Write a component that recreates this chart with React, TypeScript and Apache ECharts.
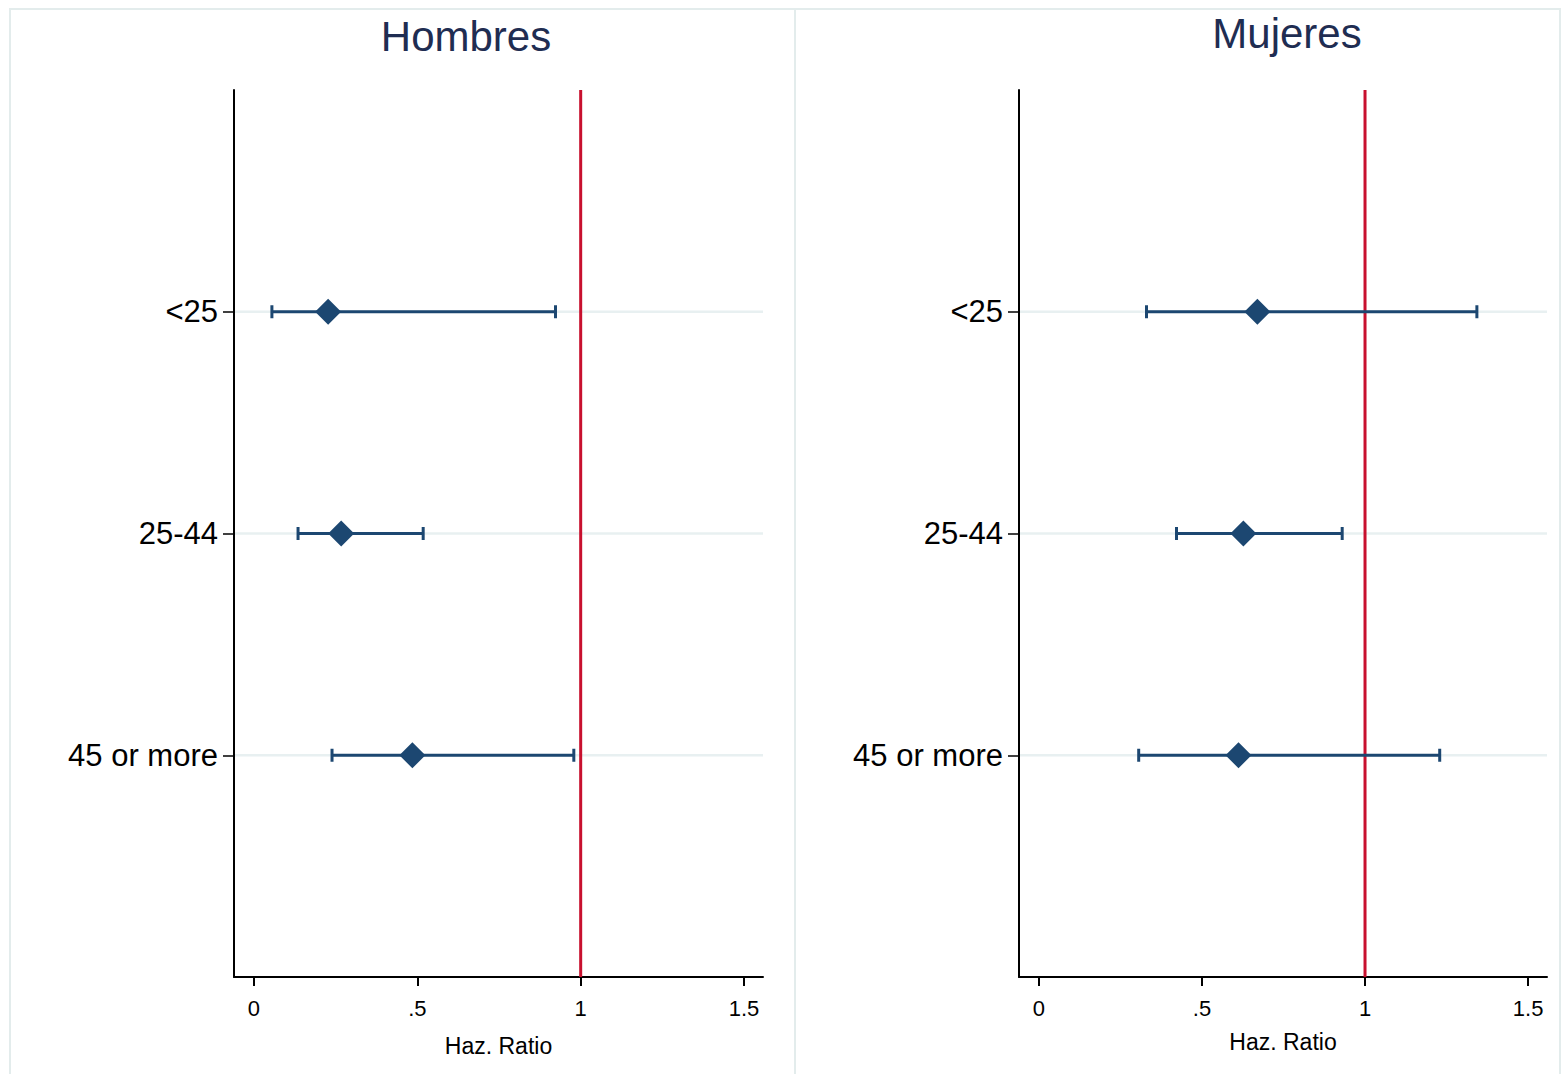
import React, { useEffect, useRef } from "react";
import * as echarts from "echarts";

// y positions: 1 = "45 or more", 2 = "25-44", 3 = "<25"
const ageGroups = ["45 or more", "25-44", "<25"];
const ageY = [1, 2, 3];
const panelTitles = ["Hombres", "Mujeres"];

const hombresHR = [0.485, 0.267, 0.227];
const hombresLow = [0.239, 0.135, 0.055];
const hombresHigh = [0.979, 0.518, 0.923];

const mujeresHR = [0.612, 0.627, 0.67];
const mujeresLow = [0.306, 0.422, 0.33];
const mujeresHigh = [1.229, 0.93, 1.343];

const xTicks = [0, 0.5, 1, 1.5];
const xTickLabels = ["0", ".5", "1", "1.5"];
const refValue = 1;
const xName = "Haz. Ratio";

const FONT = '"Liberation Sans", Arial, Helvetica, sans-serif';
const NAVY = "#1c4771";
const RED = "#c8102e";
const GRIDC = "#e8f0f1";

export default function App() {
  const ref = useRef<HTMLDivElement>(null);

  useEffect(() => {
    if (!ref.current) return;
    const chart = echarts.init(ref.current, undefined, { renderer: "svg" });

    const grids = [
      { left: 234, top: 90, width: 529, height: 887 },
      { left: 1019, top: 90, width: 528, height: 887 },
    ];
    const nameGaps = [57, 53];

    const xAxes = grids.map((_, i) => ({
      type: "value",
      gridIndex: i,
      min: -0.061,
      max: 1.558,
      name: xName,
      nameLocation: "middle",
      nameGap: nameGaps[i],
      nameTextStyle: { fontSize: 23, color: "#000", fontFamily: FONT },
      axisLine: { show: true, onZero: false, lineStyle: { color: "#000", width: 2 } },
      axisTick: {
        show: true,
        customValues: xTicks,
        length: 9,
        lineStyle: { color: "#000", width: 2 },
      },
      axisLabel: {
        show: true,
        customValues: xTicks,
        formatter: (v: number) => xTickLabels[xTicks.indexOf(v)] ?? String(v),
        fontSize: 22,
        color: "#000",
        margin: 20,
        fontFamily: FONT,
      },
      splitLine: { show: false },
    }));

    const yAxes = grids.map((_, i) => ({
      type: "value",
      gridIndex: i,
      min: 0,
      max: 4,
      axisLine: { show: true, onZero: false, lineStyle: { color: "#000", width: 2 } },
      axisTick: {
        show: true,
        customValues: ageY,
        length: 11,
        lineStyle: { color: "#000", width: 1.5 },
      },
      axisLabel: {
        show: true,
        customValues: ageY,
        formatter: (v: number) => ageGroups[ageY.indexOf(v)] ?? "",
        fontSize: 31,
        color: "#000",
        margin: 16,
        fontFamily: FONT,
      },
      splitLine: { show: false },
    }));

    const panels = [
      { hr: hombresHR, lo: hombresLow, hi: hombresHigh },
      { hr: mujeresHR, lo: mujeresLow, hi: mujeresHigh },
    ];

    const series: any[] = [];
    panels.forEach((p, i) => {
      series.push({
        type: "custom",
        xAxisIndex: i,
        yAxisIndex: i,
        z: 1,
        silent: true,
        encode: { x: 0, y: 1 },
        data: ageY.map((y) => [0, y]),
        renderItem: (params: any, api: any) => {
          const cs = params.coordSys;
          const pt = api.coord([api.value(0), api.value(1)]);
          return {
            type: "line",
            shape: { x1: cs.x + 1, y1: pt[1], x2: cs.x + cs.width, y2: pt[1] },
            style: { stroke: GRIDC, lineWidth: 2.5 },
          };
        },
      });
      series.push({
        type: "custom",
        xAxisIndex: i,
        yAxisIndex: i,
        z: 2,
        silent: true,
        encode: { x: 0, y: 1 },
        data: [[refValue, 0]],
        renderItem: (params: any, api: any) => {
          const cs = params.coordSys;
          const pt = api.coord([api.value(0), api.value(1)]);
          return {
            type: "line",
            shape: { x1: pt[0], y1: cs.y, x2: pt[0], y2: cs.y + cs.height },
            style: { stroke: RED, lineWidth: 3 },
          };
        },
      });
      series.push({
        type: "custom",
        xAxisIndex: i,
        yAxisIndex: i,
        z: 3,
        silent: true,
        encode: { x: [0, 1], y: 2 },
        data: ageY.map((y, k) => [p.lo[k], p.hi[k], y]),
        renderItem: (_params: any, api: any) => {
          const a = api.coord([api.value(0), api.value(2)]);
          const b = api.coord([api.value(1), api.value(2)]);
          const cap = 6.5;
          const style = { stroke: NAVY, lineWidth: 3 };
          return {
            type: "group",
            children: [
              { type: "line", shape: { x1: a[0], y1: a[1], x2: b[0], y2: b[1] }, style },
              { type: "line", shape: { x1: a[0], y1: a[1] - cap, x2: a[0], y2: a[1] + cap }, style },
              { type: "line", shape: { x1: b[0], y1: b[1] - cap, x2: b[0], y2: b[1] + cap }, style },
            ],
          };
        },
      });
      series.push({
        type: "scatter",
        xAxisIndex: i,
        yAxisIndex: i,
        z: 4,
        symbol: "diamond",
        symbolSize: 26,
        itemStyle: { color: NAVY, opacity: 1 },
        data: ageY.map((y, k) => [p.hr[k], y]),
      });
    });

    chart.setOption({
      animation: false,
      backgroundColor: "#ffffff",
      textStyle: { fontFamily: FONT },
      grid: grids,
      xAxis: xAxes,
      yAxis: yAxes,
      series,
      graphic: [
        {
          type: "rect",
          silent: true,
          z: -10,
          shape: { x: 10, y: 9, width: 785, height: 1090 },
          style: { fill: "none", stroke: "#e3ecec", lineWidth: 2 },
        },
        {
          type: "rect",
          silent: true,
          z: -10,
          shape: { x: 795, y: 9, width: 765, height: 1090 },
          style: { fill: "none", stroke: "#e3ecec", lineWidth: 2 },
        },
        {
          type: "text",
          x: 466,
          y: 36,
          style: {
            text: panelTitles[0],
            fontSize: 42,
            fontFamily: FONT,
            fill: "#1f2d52",
            textAlign: "center",
            textVerticalAlign: "middle",
          },
        },
        {
          type: "text",
          x: 1287,
          y: 33,
          style: {
            text: panelTitles[1],
            fontSize: 42,
            fontFamily: FONT,
            fill: "#1f2d52",
            textAlign: "center",
            textVerticalAlign: "middle",
          },
        },
      ],
    });

    return () => chart.dispose();
  }, []);

  return (
    <div
      ref={ref}
      style={{ position: "absolute", left: 0, top: 0, width: 1564, height: 1074, background: "#fff" }}
    />
  );
}
